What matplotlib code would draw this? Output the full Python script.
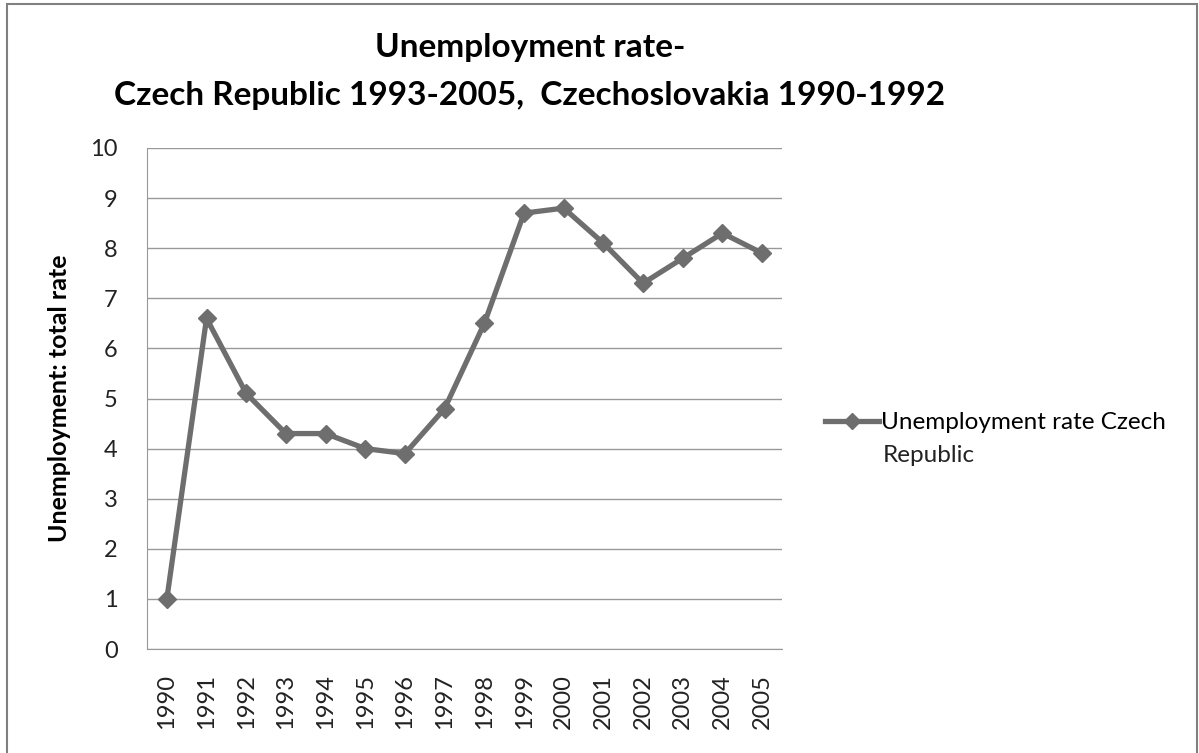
import matplotlib.pyplot as plt
from matplotlib.patches import Rectangle

years = ["1990", "1991", "1992", "1993", "1994", "1995", "1996", "1997",
         "1998", "1999", "2000", "2001", "2002", "2003", "2004", "2005"]
rate = [1.0, 6.6, 5.1, 4.3, 4.3, 4.0, 3.9, 4.8, 6.5, 8.7, 8.8, 8.1, 7.3, 7.8, 8.3, 7.9]
yticks = list(range(0, 11))

plt.rcParams['font.family'] = ['Lato', 'DejaVu Sans']

fig = plt.figure(figsize=(11.99, 7.53), dpi=100)
W, H = 1199, 753
# axes: left 147, right 782, top 148, bottom 649 (pixels)
ax = fig.add_axes([147 / W, 1 - 649 / H, (782 - 147) / W, (649 - 148) / H])

x = list(range(len(years)))
ax.plot(x, rate, color="#6e6e6e", lw=3.8, marker="D", ms=9.5,
        label="Unemployment rate Czech")

ax.set_xlim(-0.5, len(years) - 0.5)
ax.set_ylim(0, 10)
ax.set_yticks(yticks)
ax.set_xticks(x)
ax.set_xticklabels(years, rotation=90, fontsize=17)
ax.tick_params(axis="y", labelsize=17, length=0, pad=21, labelcolor="#222222")
ax.tick_params(axis="x", length=0, pad=18, labelcolor="#222222")
ax.grid(axis="y", color="#999999", lw=1)
ax.set_axisbelow(True)
for s in ["top", "right"]:
    ax.spines[s].set_visible(False)
for s in ["left", "bottom"]:
    ax.spines[s].set_color("#999999")

ax.set_ylabel("Unemployment: total rate", fontsize=18, fontweight="bold", labelpad=14)

fig.text(530 / W, 1 - 47 / H, "Unemployment rate-", ha="center", va="center",
         fontsize=24, fontweight="bold")
fig.text(530 / W, 1 - 95 / H, "Czech Republic 1993-2005,  Czechoslovakia 1990-1992",
         ha="center", va="center", fontsize=24, fontweight="bold")

# legend entry wraps onto a second line in the original
ax.legend(loc="center left", bbox_to_anchor=(1.034, 0.452), frameon=False,
          fontsize=17.5, handlelength=2.2, handletextpad=0.1, markerscale=0.85)
fig.text(883 / W, 1 - 455 / H, "Republic", ha="left", va="center",
         fontsize=17.5, color="#222222")

fig.patches.append(Rectangle((7 / W, -0.1), (1197 - 7) / W, 1.1 - 4 / H,
                             transform=fig.transFigure, fill=False,
                             edgecolor="#808080", lw=1.5))

fig.savefig("out.png", dpi=100)
